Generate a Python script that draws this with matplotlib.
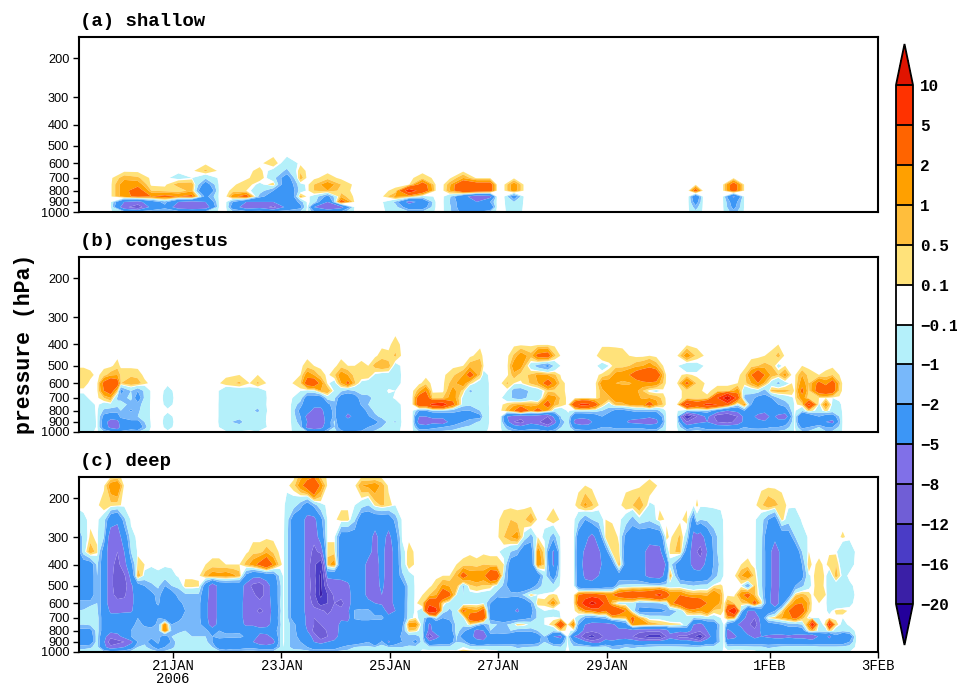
import numpy as np
import matplotlib
matplotlib.use("Agg")
import matplotlib.pyplot as plt
from matplotlib.ticker import FixedLocator, FixedFormatter, NullLocator

# pressure levels (hPa), bottom to top of each column list
pressure = [1000, 950, 900, 850, 800, 750, 700, 650, 600, 550, 500, 450, 400, 350, 300, 250, 215, 175, 160]
# contour levels and colours
levels = [-20, -16, -12, -8, -5, -2, -1, -0.1, 0.1, 0.5, 1, 2, 5, 10]
colors = ["#23009b", "#3a1fa6", "#4a3cc6", "#705ed6", "#8070e8", "#3c96f6", "#78b8fa", "#b4f0fa", "#ffffff",
          "#ffe27a", "#ffbe3c", "#ffa000", "#ff6400", "#ff3200", "#e01400"]
date_ticks = [2, 4, 6, 8, 10, 13, 15]
date_labels = ["21JAN\n2006", "23JAN", "25JAN", "27JAN", "29JAN", "1FEB", "3FEB"]
p_ticks = [200, 300, 400, 500, 600, 700, 800, 900, 1000]

# columns keyed by 3-hour step; values are heating rates read per pressure level
shallow_cols = {
 0: [], 6: [],
 8: [-1,-7,-5,1.5,1.5,1.5,.8,0], 10: [-1,-10,-6,2.5,3,1.5,.6,0], 12: [-.8,-4,-3,2,.5,0], 14: [-.7,-2.5,-1.5,2.5,.3,0],
 16: [-.7,-7,-5,2,.1,.8,-.3,0], 18: [-.7,-8,-6,2.5,.8,.8,-.1,0], 20: [-1,-7,-5,-2.5,-5,-3,-.8,.6,0], 22: [], 23: [],
 24: [-.6,-3,-2,1.5,.2,0], 26: [-.8,-7,-5,3,.1,.4,0], 28: [-.8,-6,-5,-1.5,-.5,-.3,.4,.2,0],
 30: [-.8,-9,-5,-3,-2,.4,-.6,-.3,.4,0], 32: [-1,-4,-4,-5,-4,-3.5,-3,-1.2,-.5,0],
 34: [-.7,-2.5,-1.5,.8,-.5,-.3,.8,.4,0], 35: [], 36: [-1.5,-5,-.3,-.3,.5,.5,0], 38: [-2,-8,-5,-2.5,1,1.5,.3,0],
 40: [-1.5,-6,3,.8,.3,.5,0], 42: [], 46: [], 48: [-.4,-.6,-1.2,1.2,.2,0], 50: [-.8,-3,-6,1,7,0],
 52: [-.8,-3,-4,-.5,3.5,3,.3,0], 54: [], 55: [], 56: [-.8,-.8,-1,-.8,1,.8,0], 58: [-2.5,-3,-3,-4,4,4,1,0],
 60: [-2,-3,-5,-7,4,3,0], 62: [-.8,-4,-2,-6,3,3,0], 63: [], 64: [], 65.5: [-.5,-.7,-1,-3,1.5,1.5,0], 67: [],
 91.2: [], 92.3: [-.7,-1.5,-3,-4,3,0], 93.4: [], 96.3: [], 97.9: [-1.5,-2.5,-3,-5.5,3,3,0], 99.5: [], 119: [],
}

congestus_cols = {
 0: [], 1: [-.2,-.6,-.6,-.6,-.6,-.5,-.3,0,.3,.5,0], 2: [-.2,-.6,-.6,-.6,-.6,-.5,-.3,0,.3,.5,0],
 3: [-.2,-.6,-.6,-.5,-.4,-.3,0,0,0,.2,0], 4: [], 5: [-.8,-3,-3,-2.5,-1.2,-.4,.5,2,2.5,.3,0],
 6: [-1,-6,-7,-3,-1.5,-.3,1,3,4,.8,0], 7: [-2,-7,-6,-3,-1.5,-.7,-1.2,.5,3,1,.3,0],
 7.5: [-1.5,-4,-3.5,-1.5,-1,-.3,-1.5,-2.5,.5,.4,0], 9: [-1,-3,-2.5,-1,-2.2,-1.5,-.7,-1,.9,.4,0],
 10: [-1,-3.5,-2.5,-1,-1.2,-1.5,-3,-2,.8,.3,0], 11: [-.3,-1.5,-1,-.5,-.5,-.5,-.8,-.8,.2,0], 12: [],
 13.5: [], 14.4: [0,-.3,-.5,-.3,0,-.3,-.5,-.3,0], 15.5: [], 21.7: [],
 23: [0,-.5,-.8,-.7,-.7,-.7,-.6,-.6,.3,0], 25: [0,-.6,-1.3,-.7,-.7,-.7,-.7,-.6,.6,.1,0],
 26.5: [0,-.3,-.4,-.6,-.7,-.6,-.6,-.3,.1,0], 27.7: [0,-1,-.5,-.6,-1.2,-.7,-.9,-.6,.6,.1,0], 29.2: [], 32.5: [],
 34: [-.7,-1,-1.5,-2,-2.5,-1.5,-.5,-.1,.5,.1,0], 35: [-1,-6,-5,-6,-3.5,-3.5,-3,-.4,3,1.5,.3,0],
 36: [-2,-7,-7,-7,-6,-4,-3,-.3,3.5,1,.1,0], 37: [-2.5,-6,-8,-6.5,-6,-4,-3,1,1.5,.3,0],
 38: [-.8,-3,-3,-3.5,-3,-2.5,-.5,1,0], 39: [-.7,-1,-.8,-1.5,-1.5,-1.2,-.8,-.2,-.4,.4,0],
 40: [-1.5,-3,-4,-4,-4.5,-4,-3,-.8,1,1.5,.3,0], 41: [-2,-4,-4,-5.5,-4.5,-4,-3,-1.5,2.5,1,.1,0],
 42: [-1.5,-4,-4.5,-4.5,-4.5,-3.5,-3,-1,.6,.3,.1,0], 43: [-1.5,-3.5,-3.5,-3.5,-3,-1.8,-1.2,-.8,-.3,.5,.2,0],
 44: [-1,-2,-3.5,-2.2,-1.5,-1,-1.2,-.7,-.5,.5,.1,0], 45: [-.8,-1.5,-2.5,-1.2,-.8,-.8,-.8,-.8,-1,-.2,.7,0],
 46: [-.4,-1,-1.5,-.8,-.6,-.6,-.5,-.5,-.5,-.4,1,.3,0], 47: [-.3,-.8,-.8,-.7,-.6,-.5,-.3,0,-.4,-.4,.8,.2,0],
 48: [-.3,-.5,-1.1,-.6,-.6,-.5,0,-.1,-.5,-.6,-.4,.6,.3,0], 49: [], 50.5: [],
 51.5: [-.8,-3,-6.5,-5,-2,3.5,3,.8,0], 52.5: [-.8,-3,-8,-5,-2,3.5,3.5,2,.3,0], 53.5: [-.7,-2.5,-6,-4.5,-1,6,.4,0],
 55: [-.7,-2,-7,-4,-1,7,.5,0], 56.5: [-.6,-1.5,-3,-3,-1.5,2.5,1.5,1.3,.8,.4,0],
 58: [-.5,-1,-2,-3,-2,-.6,-.3,.3,1.5,1,.1,0], 59: [-.4,-.8,-1.5,-2.5,-2,-.8,-.5,-1.2,.3,3,.8,0],
 60.5: [-.3,-.5,-.8,-2.5,-1,-.6,-.5,-.6,-.5,.5,1,.3,0], 61: [-.2,-.4,-.6,-.6,-.6,-.5,-.5,-.5,-.5,-.3,.1,0],
 62: [], 63.5: [], 64.5: [-.5,-1.5,-4,-5,.8,.3,-.5,-.1,.6,0], 65.5: [-.8,-3,-8,-6,2,.8,-1.2,-1.5,.1,.8,1.5,.6,0],
 66.5: [-1,-4,-9,-7,5,1,-1.5,-1.6,0,.3,1.3,1.5,0], 68: [-.8,-3,-6,-6,1.5,.8,-.6,-.8,.6,.6,-.5,.7,0],
 69: [-1,-3,-7,-7,3,.8,-1,-.6,1,1.2,-1.5,2.5,0], 70.5: [-1.2,-5,-12,-8,1,3,1.5,.4,3,1,-2.5,3,0],
 71.5: [-1,-3,-6,-4,-.5,.8,1.3,.3,1.5,.6,-.8,.6,0], 72.5: [-.5,-1,-1.5,-.7,-.5,.3,.3,.2,.2,0],
 73.5: [-.2,-.4,-.5,-.3,0], 74.5: [-.7,-3,-6,-4,-.5,4,0], 75.5: [-.8,-3.5,-7,-4,-.5,6,.1,0],
 76.5: [-1,-3.5,-6.5,-3.5,-.6,5.5,.1,0], 77.5: [-.9,-3,-3.5,-3,-.5,3,0], 78.5: [-.8,-2,-2.5,-2,-1,.5,.8,.8,1.5,.2,-.4,.5,0],
 79.5: [-.8,-2,-3,-3,-1.5,-.5,.8,1.5,1.5,.5,-.1,.5,0], 80.5: [-.8,-2.5,-3.5,-3.5,-2.5,.7,1.5,1.8,1,1.3,.3,.4,0],
 81.5: [-.8,-2.5,-4,-4,-2.5,.8,1.5,2,.8,1.5,.3,.3,0], 82.5: [-.8,-2.5,-5.5,-4,-2,1.2,1.3,1.5,.9,2,.5,.1,0],
 83.5: [-.8,-2.5,-6,-4,-1.5,1.5,1.2,1.2,1.2,3,.8,0], 84.5: [-.8,-2.5,-6.5,-4,-1.5,1.5,.9,.5,1.5,4,1,0],
 85.5: [-.8,-3,-7,-4.5,-1.5,3,1,-.1,1.7,4.5,1.5,.1,0], 86.5: [-.8,-3,-6,-4,-1.5,1.2,.9,-.3,1.5,4,.8,0],
 87.5: [-.4,-1,-2,-1.5,-.4,.5,.3,0,.5,.8,.1,0], 88: [], 89.5: [],
 91: [-.7,-3,-8,-16,-1,6,.2,.2,2.5,.2,-.8,1.5,0], 92.5: [-.5,-2,-6,-8,-1,3.5,.1,.2,.4,0,-.3,.3,0],
 94: [-.8,-3,-5,-4,-1,6,.2,0], 95.5: [-1,-3,-8,-10,-3,5,5,.3,0], 97: [-1,-3,-9,-11,-5,3,14,.3,0],
 98.5: [-1,-3,-7,-8,-4,-.5,3,1.5,.1,0], 99.5: [-.7,-2,-4,-4,-2,1.5,-1.2,-.8,.3,.3,0],
 100.5: [-.8,-2.5,-4,-4,-3,-2,-1.5,-.6,1,2,.3,0], 101.5: [-1,-2.5,-4,-6,-3.5,-3,-2.5,-.5,2,4,.5,0],
 102.5: [-.8,-2.5,-4.5,-7,-4,-3,-2.5,-1.5,.8,2,.7,.1,0], 103.5: [-.7,-2,-4,-4,-3.5,-3,-2,.7,-.5,.8,.5,.2,0],
 104.5: [-.7,-2,-4,-6,-3,-2,-1,.8,-1.3,.5,-.3,.7,.1,0], 105.5: [-.6,-1.5,-3,-7,-3,-1.5,-.6,.7,-.4,1.3,.1,0],
 106.5: [-.4,-.7,-1,-1.5,-.8,-.6,-.2,.5,.1,0], 106.9: [], 108: [-.7,-2.5,-5,-5,-.8,.3,1.5,2.5,1.5,1,.1,0],
 109: [-.7,-2,-4,-4,.5,6,.2,.4,.5,.3,0], 110.5: [-.7,-1,-3.5,-2,-.5,-.3,.1,3,2.5,.1,0],
 111.5: [-.8,-2,-5,-3,.3,1.5,.1,3.5,1.5,.2,0], 112.5: [-.7,-2,-6,-3,-.4,-.3,-.1,3,3,.5,0],
 113.5: [-.4,-.8,-1.5,-1,-.4,-.2,0,.4,.6,.1,0], 114: [], 119: [],
}

deep_cols = {
 0: [-.3,-1.5,-3,-3,-2.5,-1,-.5,-1,-1.5,-3,-3,-3,-3,-3,-3,-.5,0],
 1: [-.3,-1.5,-3,-3,-2.5,-1,-.5,-1,-1.5,-3,-3,-3,-3,-3,-3,-.5,0],
 2: [-.3,-1.5,-3,-3,-2.5,-1,-.7,-.9,-1.5,-3,-3,-3,-3,-.5,-.5,-.2,0],
 3: [-.3,-1.2,-3,-3,-2.5,-.8,-.3,-.1,-1.5,-3,-3,-3,-3,1,.2,0],
 4: [-.2,-.5,-.5,-.5,-.5,-.5,-.5,-.8,-1,-1,-1,-1,-.8,.2,0],
 5: [-.7,-4,-4.5,-4,-3,-3,-3,-3,-3,-3,-3,-3,-3,-3,-1,-.5,.4,0],
 6: [-.8,-7,-10,-7,-4,-3.5,-4,-5.5,-7,-7,-7,-7,-7,-7,-7,-3.5,.3,1.5,.1],
 7: [-.8,-6,-9,-6,-4,-3.5,-4,-5.5,-7,-9,-10,-10,-9,-8,-6.5,-4.5,.2,2,.2],
 8: [-.6,-5,-8,-4,-3,-3,-3.5,-5.5,-7,-8.5,-9.5,-8.5,-6,-5,-3.5,-1.2,0],
 9: [-.4,-3,-6,-2,-2,-2.5,-3,-5.5,-6,-6,-5.5,-4,-2.5,-1,-.3,0],
 10: [-.5,-1,-2,-1.2,-1.5,-1.6,-2,-3,-3,-3,-3,1,.3,0],
 11: [-.5,-.8,-1.2,-1.2,-1.5,-2.2,-3,-3,-3,-3.5,-2,-.3,.1,0],
 12: [-.5,-1.5,-3,-1.5,-1.5,-2.5,-3,-2.5,-2.5,-2.5,-1.2,-.5,0],
 13: [-.7,-3,-1.5,-1.5,-1.5,-1.7,-2,-2.5,-1.8,-1.5,-.8,-.2,0],
 14: [-.7,-2,-5,-3,2,2,-3,-3,-3,-3,-2,-.5,0],
 15: [-.6,-1.2,-1.5,-1,-1.2,-2,-3,-3.5,-3.5,-3,-1,-.3,0],
 16: [-.4,-.7,-.6,-.7,-1.2,-1.5,-2.5,-3,-2.5,-1.5,-.8,0],
 17: [-.4,-.5,-.5,-.5,-1,-1.5,-1.5,-2,-1.6,-1.2,.3,0],
 18: [-.3,-.5,-.8,-1,-1.3,-1.5,-1.6,-1.8,-1.5,-1.2,.3,0],
 19: [-.5,-.6,-.8,-1,-1.2,-1.5,-1.5,-1.5,-1.5,-1.2,.2,0],
 20: [-.3,-.6,-.6,-1,-1.5,-3,-4,-4,-4,-3.5,-3,.8,.1,0],
 21: [-.3,-1,-2,-2,-3,-7,-7,-7,-7,-7,-7,1.5,.2,0],
 22: [-.4,-3,-3,-1.5,-2,-3.5,-4,-4,-4,-4,-4,1.3,.2,0],
 23: [-.4,-4,-3.5,-1.5,-2.5,-3.5,-4,-4,-4,-4,-3.8,1.5,.1,0],
 24: [-.5,-3,-4,-1.5,-2.5,-3.5,-4,-4,-4,-4,-3.8,1.2,.1,0],
 25: [-.5,-3,-4,-1.3,-2.5,-4,-4,-4,-4,-3.8,-3.5,.8,.1,0],
 26: [-.5,-2.5,-5,-2.5,-3,-5.5,-6,-6,-6,-6,-6,-2.5,.7,0],
 27: [-.5,-2.5,-5,-3,-3,-5.5,-6,-6.5,-7,-7,-9,-4,1.5,.3,0],
 28: [-.5,-3,-7,-6,-4,-6,-6,-9,-6.5,-10,-10,-4,2.5,.3,0],
 29: [-.6,-3,-8,-6,-3.5,-6,-6.5,-7,-6.5,-6.5,-6.5,-3.5,4,.8,0],
 30: [-.6,-3,-6,-4,-3,-4,-4,-4,-4,-3.5,-3.5,-3,1.8,.4,0],
 31: [-.3,-1,-1,-1,-1,-1.2,-1,-1.2,-1,-1.2,-1.2,-.6,.2,0],
 31.5: [-.3,-.1,0],
 32: [-.3,-.6,-.6,-.6,-.6,-.6,-.6,-.6,-.7,-.7,-.7,-.7,-.7,-.7,-.7,-.5,-.3,0],
 33: [-.4,-1.5,-1.5,-1.5,-1.5,-1.5,-3,-3,-3,-3,-3,-3,-3,-3,-3,-3,-.5,.3,0],
 34: [-.5,-1.5,-2,-2.5,-3,-3.5,-3.5,-3.5,-3.5,-3.5,-3.5,-3.5,-3.5,-3.5,-3.5,-3.5,-1.5,1.5,.8],
 35: [-.5,-2,-3,-3.5,-5,-5.5,-5.5,-6,-6,-6,-6,-6,-6,-6,-6,-6,-3,3,1.5],
 36: [-1,-3,-5,-6,-9,-8,-8,-7,-9,-11,-10,-11,-11,-9,-7,-6,-1.5,5,2],
 37: [-1,-3,-6,-10,-12,-8,-6,-7,-14,-17,-17,-17,-15,-7,-3.5,-2.5,-.3,1.5,.5],
 38: [-.8,-3,-5,-8,-7,-6,-7,-9,-12,-12,-8,-4,.8,.3,0],
 39: [-.7,-3,-4,-7,-8,-8,-6,-7,-8,-7,-7,-4,1.5,.3,0],
 40: [-.6,-2,-3,-3,-3,-3.5,-6,-7,-9,-7,-6.5,-4,-3.5,-3.5,-3,.3,0],
 41: [-.6,-1.5,-3,-3,-3,-4,-6,-5.5,-6,-6,-5.5,-4,-4,-3.5,-3,.3,0],
 42: [-.5,-1,-3,-3.5,-3,-3,-1.8,-1.8,-3.5,-3.5,-3.5,-3.5,-3.5,-3.5,-3,-.8,-.1,0],
 43: [-.4,-.8,-2.5,-3.5,-3,-3,-1.5,-1.5,-3.5,-3.5,-3.5,-3.5,-3.5,-3.5,-3.5,-3.5,-.5,1,.1],
 44: [-.4,-.8,-2,-3.5,-3.5,-3,-1.5,-1.5,-4,-6,-6,-6,-6,-4,-3.5,-3.5,-1,1.2,0],
 45: [-.4,-1,-5,-3.5,-3.5,-3.5,-1.5,-3,-5,-7,-7,-7,-7,-6,-6,-3.5,.2,1.5,0],
 46: [-.4,-.6,-1.5,-3.5,-3.5,-3.5,-1.5,-3,-5.5,-5,-4,-3.5,-3.5,-3.5,-3.5,-3.5,.6,.8,0],
 47: [-.5,-1,-5.5,-3.5,-3.5,-3.5,-3.5,-6.5,-7.5,-7.5,-7.5,-7.5,-7.5,-7.5,-6,-3.5,.3,0],
 48: [-.5,-1,-3,-3.5,-3.5,-3.5,-3.5,-5,-3.5,-3.5,-3.5,-3.5,-3.5,-3.5,-3,-1.5,-.1,0],
 49: [-.5,-1,-2,-1.5,-2,-2.5,-3,-3,-3,-3,-3,-1.2,-.6,-.4,0],
 50: [-.3,-.8,-1.5,-1.5,.5,1.5,-.4,-.5,-.5,-.6,-.6,-.4,.4,.3,0],
 51: [-.2,-.6,-2.5,-1.5,.3,1.5,.1,0],
 52: [0,-.2,-.5,-.6,-.6,-.6,-.5,-.5,.5,.1,0],
 53: [.3,-.7,-4,-10,-6,-5.5,-3,8,4,.5,0],
 54: [.3,-.7,-3.5,-6,-3.5,-3.5,-.7,6,3.5,1,.3,0],
 55: [.3,-.7,-3,-4,-3,-3.5,-2,-.5,.3,4,1.2,.1,0],
 56: [.3,-.7,-3,-4.5,-3,-3,-1.5,-1.2,-.6,2.5,.9,.1,0],
 57: [.2,-.7,-1,-.8,-.6,-.6,-.5,-.6,-.5,-.1,1,.8,.1,0],
 58: [.3,-.1,-1.2,-3,-1.5,-.8,-.5,2.5,-.6,-1,-1.2,3,.2,0],
 59: [.3,-.4,-3,-4,-3,.3,3,1.5,-.3,-.4,.4,1.5,.4,0],
 60: [.3,-.6,-4,-6,-6,-.8,5,1.2,-.3,-.3,.6,1.8,.2,0],
 61: [.3,-.5,-4,-7,-5,-2,3.5,3,-.2,-.4,.4,1.5,.5,0],
 62: [.2,-.5,-3,-3,-1,-.8,-2.5,-3,-2,-.5,.3,4,.3,0],
 63: [.1,-.5,-3,-3,-1.2,-1,-3,-3.5,-3.5,-1.5,-.3,3.5,.3,0],
 64: [-.3,-.6,-3,-3,-1,-1.2,-3.5,-3.5,-3.5,-1.2,-1.2,-.7,.1,-.3,.5,.3,0],
 65: [-.3,-.6,-3,-3.5,-1,-.8,-3,-4,-3.5,-1.5,-3,-3,-3,-1,1,.5,0],
 66: [-.4,-1.2,-3,-5,-1.5,.4,-3,-5.5,-4,-1.5,-3.5,-3.5,-3.5,-1.5,1.4,.3,0],
 67: [-.3,-1,-3,-5,-1.5,.2,-2.5,-3.5,-3.5,-.8,-3.5,-3.5,-3.5,-3.5,-.3,.4,0],
 68: [-.3,-.9,-3,-5,-1.5,-.3,-2,-2.5,-2,.4,-3,-3.5,-3.5,-3,-1.5,1,0],
 69: [-.3,-.8,-2.5,-3,-1,-.3,-.8,-.7,.4,-.1,-1.5,-3.5,1.8,1.5,.1,0],
 70: [-.2,-.6,-1,-1,-.3,-.1,-.1,-.1,.2,0,-.6,-.5,.5,.2,-.2,0],
 71.3: [-.2,-.5,-3,-5,-.7,.3,0,-.6,1.5,.2,-.7,-3,-5.5,-5.5,-1.5,.5,0],
 72.4: [-.3,-.9,-3,-6,.3,5,-.1,0],
 73.4: [],
 74.3: [-.3,-.8,-2,-5,-.2,2,0],
 75: [-.2,-.7,-3,-6,-3,-2,-.4,.4,3,2,-3,-3.2,-3.5,-3.5,-3,-.6,.3,0],
 76: [-.2,-.7,-4,-11,-6,-5,-2,1.5,7,3,-4,-5.5,-6,-5.5,-4,-2,1.2,.1,0],
 77: [-.3,-.9,-6,-14,-7,-6,-2.5,2,12,3,-4,-6,-7,-6,-6,-1,.6,0],
 78: [-.3,-.8,-6,-10,-6.5,-6,-2,3,9,2.5,-3.5,-5,-6,-5.5,-3.5,-.5,.1,0],
 79: [-.3,-.7,-3.5,-7,-6,-6,-1.5,2,4,2,-3,-3.5,-3.5,-3,.2,.1,0],
 80: [-.3,-1.5,-4,-8,-6,-5.5,.5,5,.5,2,-3,-3,-3,.4,.5,0],
 81: [-.3,-1.5,-3,-7,-5.5,-4,.5,3.5,-.5,3,-.8,-3,1,.2,0],
 82: [-.5,-1,-3,-6.5,-6,-3,.8,2,-.5,3.5,-.7,-3,-3,-3,-2.5,-.4,.3,0],
 83: [-.4,-1.2,-3,-8,-6,2,2.5,-.3,-.5,4,-.6,-3,-3,-3,-3,-1.5,.5,0],
 84: [-.5,-1,-4,-10,-7,1.5,1,-2.5,-1.5,3.5,-.5,-3.5,-3,-3,-3.5,-.3,1,0],
 85.5: [-.4,-.9,-3,-14,-7,1,-.3,-2.5,-1.2,4,-.4,-6,-6.5,-6.5,-3.5,-.8,-.2,.4,0],
 87: [-.3,-.7,-3,-14,-7,.6,-.3,-2.5,-1,6,-.5,-6.5,-8,-6,-3.5,.3,0],
 88: [-.3,-.7,-3,-8,-6,.5,-.6,-2,-.7,3.5,-.6,-3.5,-4.5,-.8,.3,0],
 88.5: [-.3,-.7,-3,-6,-4,.4,-.8,-1.5,1.5,2,-.6,1,-.4,.2,0],
 90: [-.3,-.8,-3,-9,-4,.2,-.6,-.8,3,2,-.5,-3,-3.5,.8,.6,0],
 91: [-.3,-.9,-3,-9,-3.5,-.4,-.5,.8,5,1.2,-.7,-3.5,-3.5,-3,-.6,.3,0],
 92: [-.4,-.9,-4,-11,-6,-5,-1,1.5,4,1,-1,-3.5,-6,-6.5,-6,-3,0],
 92.5: [-.4,-.9,-4.5,-13,-6.5,-5.5,-.8,1.2,3.8,1,-.8,-3.5,-6.5,-8,-6,-.3,.15,0],
 93: [-.3,-.8,-5,-15,-7,-6,-.7,1,3.5,1,-.7,-3.5,-6.5,-9,-6.5,-1,0],
 94: [-.3,-.6,-3,-7,-5,-3.5,-.5,2,2,.9,-.7,-3,-4,-5,-3.5,-.8,0],
 95: [-.3,-.5,-3,-3,-3,-3.5,-.4,.3,2,2,.1,-1.5,-1.8,-1.5,-1.5,-.5,0],
 96: [-.2,-.5,-.7,-.6,-.6,-.6,-.1,.4,.8,1,.2,-.5,-.7,-.5,-.5,-.3,0],
 96.5: [],
 97: [.3,-.7,-3.5,-6.5,-6,-2.5,1,5,1,0],
 98: [.3,-.6,-3,-6,-3.5,-4,1,9,.5,0],
 99: [.3,-.6,-3,-3,-3.5,-6,-3.5,-1,.4,1.5,-.1,1,.1,0],
 100: [.3,-.7,-3,-4,-7,-7,-6,-5,.7,3,-2,2,.2,0],
 101: [.2,-.8,-3,-6,-7,-10,-8,-5,3,.6,.6,.3,0],
 102: [-.2,-.8,-3,-5,-4.5,-4,-3.5,-3,.3,-.5,-.8,-.8,-.8,-.8,-.7,-.6,.4,0],
 103: [-.3,-1.2,-3,-5.5,-3.5,-3,.1,-3.5,-3.5,-3.5,-3,-3,-3,-3,-3.5,-2,1,0],
 104: [-.3,-1,-3,-6,-3,-2.5,.5,-2,-7.5,-7.5,-7.5,-7.5,-7.5,-7.5,-4,-3,.7,0],
 105: [-.2,-.7,-3,-6,-3,-2,1,.3,-3,-3,-3.5,-3.5,-3.5,-3.5,-3.5,.3,.3,0],
 106: [-.2,-.6,-3,-5.5,-3,-1.5,1.5,2,.3,-3,-3,-3.5,-3.5,-3.5,-3,-.5,0],
 107: [-.2,-.6,-3,-6,-3,-1.5,2.5,4.5,1.5,.4,-2,-3.5,-3.5,-3.5,-1,-.6,0],
 108: [-.2,-.6,-3,-6,-3,-1,.8,3,2,.8,-1.2,-2.5,-2,-1,-.5,0],
 109: [-.2,-.5,-3,-7,.3,2,-.2,.4,.8,.3,-.3,-.2,.6,.1,0],
 109.5: [-.2,-.5,-3,-8,1,8,-.1,0],
 110.5: [-.3,-.8,-3,-4.5,-.4,-.6,-.1,0,.1,.5,.3,.4,.2,0],
 111.5: [-.3,-.8,-3,-4,-.4,.3,0,0,0,.1,0],
 112: [-.3,-.8,-3,-6,.5,7,.1,-.3,-.6,-.8,-.8,-.8,.4,0],
 113: [-.3,-.8,-3,-2.5,-.5,.3,0,.2,-.8,-.8,-.7,.8,.5,0],
 114: [-.2,-.7,-3,-4.5,-.7,-.3,-.1,.3,-.7,-.8,-.7,-.3,-.6,-.7,.15,0],
 115: [-.1,-.5,-2,-3.5,-.4,0,0,0,-.2,-.4,-.2,0,-.3,-.5,0],
 116: [], 119: [],
}
panel_titles = ["(a) shallow", "(b) congestus", "(c) deep"]
panel_data = [shallow_cols, congestus_cols, deep_cols]

W, H = 957, 687
MONO = "Liberation Mono"
fig = plt.figure(figsize=(W / 100, H / 100), dpi=100)


def box(x0, y0, x1, y1):
    return [x0 / W, 1 - y1 / H, (x1 - x0) / W, (y1 - y0) / H]


tops = [37, 257, 477]
cf = None
for i, (top, cols, title) in enumerate(zip(tops, panel_data, panel_titles)):
    ax = fig.add_axes(box(79, top, 878, top + 175))
    keys = sorted(cols)
    t = 0.1 + np.array(keys) / 8
    z = np.zeros((len(pressure), len(keys)))
    for j, k in enumerate(keys):
        v = cols[k]
        z[:len(v), j] = v
    cf = ax.contourf(t, pressure, z, levels=levels, colors=colors, extend="both", antialiased=True)
    ax.set_yscale("log")
    ax.set_ylim(1000, 160)
    ax.set_xlim(0.266, 15)
    ax.yaxis.set_major_locator(FixedLocator(p_ticks))
    ax.yaxis.set_major_formatter(FixedFormatter([str(p) for p in p_ticks]))
    ax.yaxis.set_minor_locator(NullLocator())
    ax.tick_params(axis="y", length=4, width=1, labelsize=9.2, pad=3)
    for lab in ax.get_yticklabels():
        lab.set_family("Liberation Sans")
    if i == 2:
        ax.set_xticks(date_ticks)
        ax.set_xticklabels(date_labels, family=MONO, fontsize=10, linespacing=0.95)
        ax.tick_params(axis="x", length=4, width=1, pad=1)
    else:
        ax.set_xticks([])
    for s in ax.spines.values():
        s.set_linewidth(1.5)
        s.set_zorder(5)
    fig.text(80 / W, 1 - (top - 7) / H, title, family=MONO, weight="bold", fontsize=13.7, va="bottom", ha="left")

fig.text(25 / W, 1 - 344 / H, "pressure (hPa)", rotation=90, family=MONO, weight="bold", fontsize=15.5,
         va="center", ha="center")

cax = fig.add_axes(box(896, 44, 913, 645))
cb = fig.colorbar(cf, cax=cax, extend="both", spacing="uniform", ticks=levels, extendfrac=0.079, drawedges=True)
cb.ax.set_yticklabels([str(v).replace("-", "\u2212") for v in levels], family=MONO, weight="bold", fontsize=11.5)
cb.ax.tick_params(length=0, pad=5)
cb.outline.set_linewidth(1.3)
cb.dividers.set_linewidth(1.3)

fig.savefig("out.png", dpi=100)
